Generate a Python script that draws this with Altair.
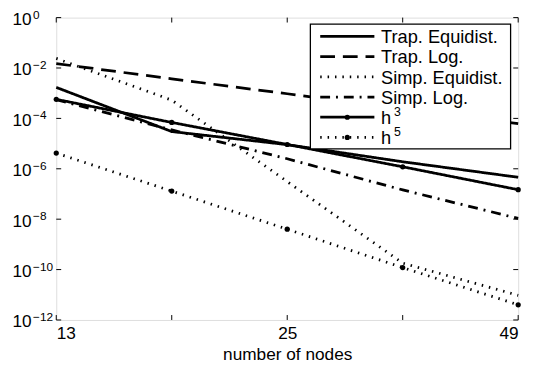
import altair as alt
import pandas as pd

# ---- data ----
step = [0, 1, 2, 3, 4]
node_labels = ["13", "", "25", "", "49"]
series = ["Trap. Equidist.", "Trap. Log.", "Simp. Equidist.", "Simp. Log.", "h^3", "h^5"]
trap_equidist = [1.7e-3, 3.0e-5, 9.1e-6, 1.9e-6, 4.6e-7]
trap_log = [1.5e-2, 3.7e-3, 9.5e-4, 2.4e-4, 6.2e-5]
simp_equidist = [2.4e-2, 5.3e-4, 3.1e-7, 1.8e-10, 9.5e-12]
simp_log = [5.5e-4, 3.5e-5, 2.5e-6, 1.45e-7, 1.07e-8]
h3 = [5.7e-4, 6.9e-5, 9.2e-6, 1.2e-6, 1.48e-7]
h5 = [4.2e-6, 1.3e-7, 4.0e-9, 1.2e-10, 4.0e-12]
y_exponents = [0, -2, -4, -6, -8, -10, -12]
legend_text = ["Trap. Equidist.", "Trap. Log.", "Simp. Equidist.", "Simp. Log.", "h", "h"]
legend_sup = ["", "", "", "", "3", "5"]
marker_series = ["h^3", "h^5"]

# ---- styling ----
W, H = 469, 307
FONT = "Liberation Sans"
dash_range = [[1, 0], [15, 8], [1.5, 6], [10, 6, 2, 6], [1, 0], [1.5, 6]]
width_range = [2.8, 2.8, 1.1, 2.8, 1.1, 1.1]

values = [trap_equidist, trap_log, simp_equidist, simp_log, h3, h5]
rows = []
for s, vals in zip(series, values):
    for st, v in zip(step, vals):
        rows.append({"step": st, "error": v, "series": s})
df = pd.DataFrame(rows)

xscale = alt.Scale(domain=[0, 4], nice=False, zero=False)
yscale = alt.Scale(type="log", domain=[1e-12, 1], nice=False)
dash_enc = alt.StrokeDash("series:N", scale=alt.Scale(domain=series, range=dash_range), legend=None)
width_enc = alt.StrokeWidth("series:O", sort=series, scale=alt.Scale(domain=series, range=width_range), legend=None)

label_expr = "[" + ",".join("'" + l + "'" for l in node_labels) + "][datum.value]"

lines = alt.Chart(df).mark_line(color="black", strokeCap="butt").encode(
    x=alt.X("step:Q", scale=xscale,
            axis=alt.Axis(values=[s for s, l in zip(step, node_labels) if l], labelExpr=label_expr,
                          ticks=False, tickSize=0, domain=False, grid=False,
                          labelFont=FONT, labelFontSize=17.5, labelColor="black", labelPadding=5,
                          title="number of nodes", titleFont=FONT, titleFontSize=17.5,
                          titleFontWeight="normal", titleColor="black", titlePadding=4)),
    y=alt.Y("error:Q", scale=yscale, axis=None),
    strokeDash=dash_enc,
    strokeWidth=width_enc,
    detail="series:N",
)

points = alt.Chart(df).transform_filter(
    alt.FieldOneOfPredicate(field="series", oneOf=marker_series)
).mark_circle(color="black", size=28, opacity=1).encode(
    x=alt.X("step:Q", scale=xscale, axis=None),
    y=alt.Y("error:Q", scale=yscale, axis=None),
)

# tick marks (inside, on all four sides)
xt = pd.DataFrame({"step": step})
yt = pd.DataFrame({"val": [10.0 ** e for e in y_exponents],
                   "base": ["10"] * len(y_exponents),
                   "sup": [("\u2212" + str(-e)) if e < 0 else str(e) for e in y_exponents]})
tick_len = 5
xt_bottom = alt.Chart(xt).mark_rule(color="black", strokeWidth=1).encode(
    x=alt.X("step:Q", scale=xscale, axis=None), y=alt.value(H), y2=alt.value(H - tick_len))
xt_top = alt.Chart(xt).mark_rule(color="black", strokeWidth=1).encode(
    x=alt.X("step:Q", scale=xscale, axis=None), y=alt.value(0), y2=alt.value(tick_len))
yt_left = alt.Chart(yt).mark_rule(color="black", strokeWidth=1).encode(
    y=alt.Y("val:Q", scale=yscale, axis=None), x=alt.value(0), x2=alt.value(tick_len))
yt_right = alt.Chart(yt).mark_rule(color="black", strokeWidth=1).encode(
    y=alt.Y("val:Q", scale=yscale, axis=None), x=alt.value(W), x2=alt.value(W - tick_len))

ylab_base = alt.Chart(yt).mark_text(font=FONT, fontSize=17.5, align="right", baseline="middle",
                                    dy=2.5, color="black").encode(
    y=alt.Y("val:Q", scale=yscale, axis=None), x=alt.value(-25), text="base:N")
ylab_sup = alt.Chart(yt).mark_text(font=FONT, fontSize=12, align="left", baseline="middle",
                                   dy=-3, color="black").encode(
    y=alt.Y("val:Q", scale=yscale, axis=None), x=alt.value(-23.5), text="sup:N")

# ---- legend ----
leg_rows = []
for i, s in enumerate(series):
    for lx in (0, 1):
        leg_rows.append({"series": s, "row": i, "lx": lx})
leg_df = pd.DataFrame(leg_rows)
leg_txt = pd.DataFrame({"series": series, "row": list(range(len(series))),
                        "label": legend_text, "sup": legend_sup})
leg_x = alt.Scale(domain=[0, 1], range=[268, 323])
leg_y = alt.Scale(domain=[0, 5], range=[19, 121.7])

leg_box = alt.Chart(pd.DataFrame({"a": [0]})).mark_rect(fill="white", stroke="black", strokeWidth=1.3).encode(
    x=alt.value(258), x2=alt.value(461.3), y=alt.value(6.7), y2=alt.value(133.3))
leg_lines = alt.Chart(leg_df).mark_line(color="black", strokeCap="butt").encode(
    x=alt.X("lx:Q", scale=leg_x, axis=None),
    y=alt.Y("row:Q", scale=leg_y, axis=None),
    strokeDash=dash_enc, strokeWidth=width_enc, detail="series:N")
leg_pts = alt.Chart(leg_txt).transform_filter(
    alt.FieldOneOfPredicate(field="series", oneOf=marker_series)
).transform_calculate(lx="0.5").mark_circle(color="black", size=28, opacity=1).encode(
    x=alt.X("lx:Q", scale=leg_x, axis=None),
    y=alt.Y("row:Q", scale=leg_y, axis=None))
leg_labels = alt.Chart(leg_txt).mark_text(font=FONT, fontSize=18.5, align="left", baseline="middle",
                                         dy=1, color="black").encode(
    x=alt.value(329.7), y=alt.Y("row:Q", scale=leg_y, axis=None), text="label:N")
leg_sups = alt.Chart(leg_txt).mark_text(font=FONT, fontSize=12.5, align="left", baseline="middle",
                                       dy=-5, color="black").encode(
    x=alt.value(343), y=alt.Y("row:Q", scale=leg_y, axis=None), text="sup:N")

chart = alt.layer(
    lines, points, xt_bottom, xt_top, yt_left, yt_right, ylab_base, ylab_sup,
    leg_box, leg_lines, leg_pts, leg_labels, leg_sups
).resolve_scale(x="independent", y="independent").properties(
    width=W, height=H,
    autosize=alt.AutoSizeParams(type="none"),
    padding={"left": 49, "top": 7, "right": 12, "bottom": 45},
).configure_view(stroke="black", strokeWidth=1.5).configure(background="white")

chart.save("out.html", embed_options={"renderer": "svg", "actions": False})
